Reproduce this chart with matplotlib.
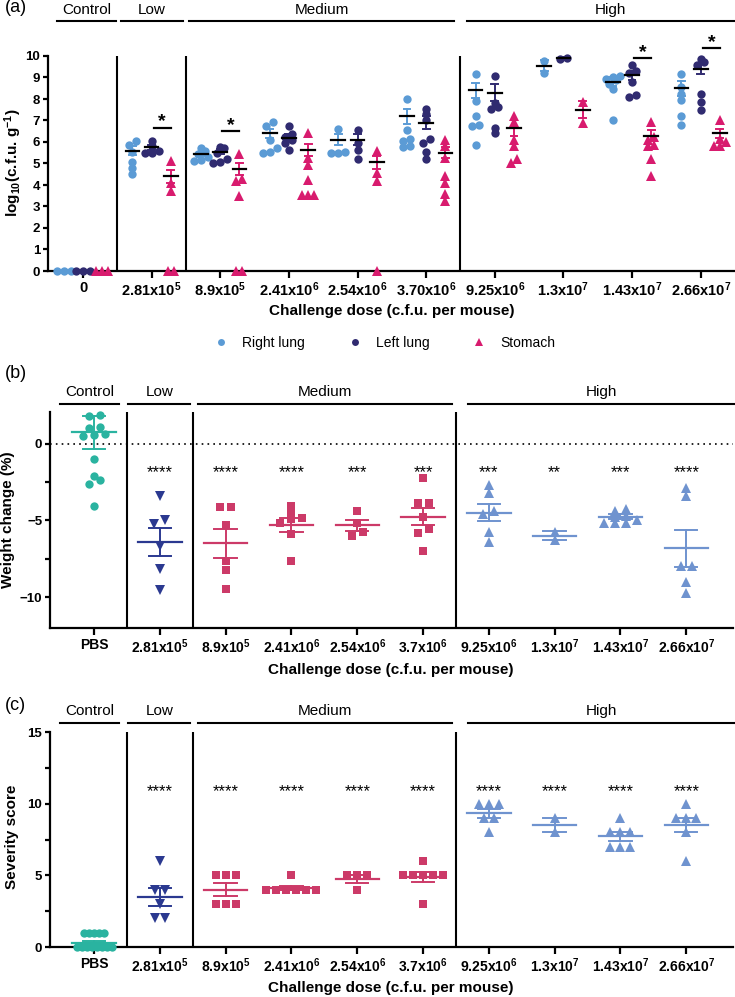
import matplotlib
matplotlib.use('Agg')
import matplotlib.pyplot as plt
from matplotlib.lines import Line2D
import numpy as np

plt.rcParams['font.family'] = ['Liberation Sans', 'DejaVu Sans']
plt.rcParams['mathtext.fontset'] = 'custom'
plt.rcParams['mathtext.rm'] = 'Liberation Sans'
plt.rcParams['mathtext.bf'] = 'Liberation Sans:bold'
plt.rcParams['mathtext.it'] = 'Liberation Sans:italic'
plt.rcParams['mathtext.default'] = 'bf'

# ---------------- data ----------------
doses_a = ['0', '2.81x10$^5$', '8.9x10$^5$', '2.41x10$^6$', '2.54x10$^6$', '3.70x10$^6$',
           '9.25x10$^6$', '1.3x10$^7$', '1.43x10$^7$', '2.66x10$^7$']
doses_bc = ['PBS', '2.81x10$^5$', '8.9x10$^5$', '2.41x10$^6$', '2.54x10$^6$', '3.7x10$^6$',
            '9.25x10$^6$', '1.3x10$^7$', '1.43x10$^7$', '2.66x10$^7$']
groups = ['Control', 'Low', 'Medium', 'High']

# (a) log10 cfu per gram
right_lung = [[0, 0, 0],
              [6.05, 5.85, 5.55, 5.05, 4.8, 4.5],
              [5.7, 5.6, 5.45, 5.3, 5.15, 5.1],
              [6.95, 6.75, 6.1, 5.7, 5.55, 5.5],
              [6.6, 5.55, 5.5, 5.5],
              [8.0, 6.55, 6.15, 6.05, 5.8, 5.75],
              [9.15, 7.9, 7.2, 6.8, 6.75, 5.85],
              [9.75, 9.2],
              [9.05, 9.0, 8.95, 8.9, 8.7, 8.45, 7.0],
              [9.15, 8.55, 8.25, 7.95, 7.2, 6.8]]
right_mean = [0, 5.6, 5.45, 6.4, 6.1, 7.2, 8.4, 9.55, 8.8, 8.5]
right_sem = [0, 0.2, 0.1, 0.2, 0.25, 0.35, 0.35, 0.25, 0.2, 0.35]

left_lung = [[0, 0, 0],
             [6.05, 5.8, 5.6, 5.5, 5.5],
             [5.75, 5.7, 5.5, 5.2, 5.0, 5.05],
             [6.75, 6.35, 6.25, 6.1, 5.95, 5.65],
             [6.55, 5.95, 5.65, 5.2],
             [7.55, 7.3, 7.0, 6.15, 5.95, 5.55, 5.2],
             [9.05, 7.8, 7.65, 7.55, 6.65, 6.4],
             [9.85, 9.9],
             [9.6, 9.3, 9.2, 8.8, 8.2, 8.1],
             [9.85, 9.7, 9.6, 8.25, 7.85, 7.5]]
left_mean = [0, 5.75, 5.55, 6.2, 6.1, 6.9, 8.3, 9.9, 9.1, 9.4]
left_sem = [0, 0.1, 0.12, 0.15, 0.25, 0.3, 0.4, 0.05, 0.2, 0.25]

stomach = [[0, 0, 0],
           [5.1, 4.1, 3.7, 0, 0],
           [5.45, 4.3, 4.2, 3.5, 0, 0],
           [6.4, 5.25, 4.95, 4.25, 3.55, 3.55, 3.55],
           [5.6, 4.55, 4.2, 0],
           [6.1, 5.8, 5.25, 4.4, 4.1, 3.6, 3.25],
           [7.2, 6.95, 6.1, 5.8, 5.2, 5.0],
           [7.85, 6.9],
           [6.95, 6.25, 6.1, 5.85, 5.8, 5.2, 4.4],
           [7.0, 6.15, 6.0, 5.8, 5.8]]
stomach_mean = [0, 4.4, 4.75, 5.63, 5.05, 5.5, 6.65, 7.5, 6.3, 6.4]
stomach_sem = [0, 0.3, 0.27, 0.3, 0.3, 0.25, 0.35, 0.4, 0.25, 0.2]

sig_cats = [1, 2, 8, 9]
sig_y = [6.67, 6.5, 9.9, 10.36]

# (b) weight change (%)
weight = [[1.88, 1.77, 1.1, 1.02, 0.6, 0.54, 0.5, -1.0, -2.13, -2.4, -2.64, -4.05],
          [-3.42, -4.98, -5.22, -6.67, -8.13, -9.53],
          [-4.1, -4.1, -5.33, -7.64, -8.25, -9.48],
          [-4.05, -4.4, -4.85, -4.9, -5.15, -5.9, -7.65],
          [-4.4, -5.15, -5.75, -6.0],
          [-2.27, -3.85, -3.85, -4.76, -5.55, -5.85, -7.0],
          [-2.73, -3.2, -4.4, -4.6, -5.75, -6.4],
          [-5.75, -6.3],
          [-4.25, -4.4, -4.7, -4.75, -5.0, -5.15, -5.15, -5.15],
          [-2.9, -3.4, -7.95, -7.95, -9.0, -9.7]]
weight_mean = [0.73, -6.4, -6.5, -5.3, -5.33, -4.76, -4.5, -6.0, -4.76, -6.82]
weight_err = [1.08, 0.9, 0.95, 0.46, 0.35, 0.57, 0.56, 0.28, 0.15, 1.2]
weight_stars = ['', '****', '****', '****', '***', '***', '***', '**', '***', '****']

# (c) severity score
severity = [[1, 1, 1, 1, 1, 0, 0, 0, 0, 0, 0, 0, 0],
            [6, 4, 4, 3, 2, 2],
            [5, 5, 5, 3, 3, 3],
            [5, 4, 4, 4, 4, 4, 4],
            [5, 5, 5, 4],
            [6, 5, 5, 5, 5, 5, 3],
            [10, 10, 10, 9, 9, 8],
            [9, 8],
            [9, 8, 8, 8, 7, 7, 7],
            [10, 9, 9, 9, 8, 6]]
sev_mean = [0.3, 3.5, 4.0, 4.14, 4.75, 4.86, 9.33, 8.5, 7.71, 8.5]
sev_err = [0.15, 0.62, 0.45, 0.14, 0.25, 0.34, 0.33, 0.5, 0.29, 0.5]
sev_stars = ['', '****', '****', '****', '****', '****', '****', '****', '****', '****']

# ---------------- style ----------------
c_right = '#5b9bd5'
c_left = '#302b70'
c_stom = '#d81b6e'
c_ctrl = '#2ab3a0'
c_low = '#2b3990'
c_med = '#cc3a68'
c_high = '#6f93cf'
group_col = [c_ctrl, c_low, c_med, c_med, c_med, c_med, c_high, c_high, c_high, c_high]
group_mk = ['o', 'v', 's', 's', 's', 's', '^', '^', '^', '^']
mk_size = {'o': 6, 'v': 6.5, 's': 5.7, '^': 6.5}

W, H = 735, 997
fig = plt.figure(figsize=(W / 100, H / 100), dpi=100)


def px_axes(l, t, r, b):
    return fig.add_axes([l / W, 1 - b / H, (r - l) / W, (b - t) / H])


def spread(ax, x0, vals, step_px, tol_px):
    vals = np.asarray(vals, float)
    p0 = ax.transData.transform((0, 0))
    p1 = ax.transData.transform((1, 1))
    sx, sy = p1[0] - p0[0], p1[1] - p0[1]
    rows = []
    for idx in np.argsort(vals, kind='stable'):
        if rows and (vals[idx] - vals[rows[-1][0]]) * sy < tol_px:
            rows[-1].append(idx)
        else:
            rows.append([idx])
    xs = np.zeros(len(vals))
    for r in rows:
        n = len(r)
        for k, idx in enumerate(r):
            xs[idx] = x0 + (k - (n - 1) / 2) * step_px / sx
    return xs


def draw_group(ax, x0, vals, mean, err, color, marker, ms, step, tol,
               mean_half, cap_half, mean_color, lw=1.4):
    xs = spread(ax, x0, vals, step, tol)
    ax.plot(xs, vals, ls='none', marker=marker, ms=ms, color=color, mec=color,
            mew=0, clip_on=False, zorder=3)
    if err > 0:
        ax.plot([x0, x0], [mean - err, mean + err], color=color, lw=lw, zorder=4)
        for y in (mean - err, mean + err):
            ax.plot([x0 - cap_half, x0 + cap_half], [y, y], color=color, lw=lw, zorder=4)
        ax.plot([x0 - mean_half, x0 + mean_half], [mean, mean], color=mean_color,
                lw=1.6, zorder=5)


def style_axes(ax, xlim, ylim, labels, xfs):
    ax.set_xlim(*xlim)
    ax.set_ylim(*ylim)
    for s in ['top', 'right']:
        ax.spines[s].set_visible(False)
    for s in ['left', 'bottom']:
        ax.spines[s].set_linewidth(1.6)
    ax.set_xticks(range(len(labels)))
    ax.set_xticklabels(labels, fontsize=xfs, fontweight='bold')
    ax.tick_params(axis='x', length=5, width=1.6, pad=2)
    ax.tick_params(axis='y', which='both', length=3.5, width=1.6, pad=2)
    for x in (0.5, 1.5, 5.5):
        ax.axvline(x, color='black', lw=1.5, zorder=1)


def bold_yticks(ax):
    for lab in ax.get_yticklabels():
        lab.set_fontweight('bold')
        lab.set_fontsize(9.5)


def headers(ax, spans, yline, ytext):
    tr = ax.get_xaxis_transform()
    for name, (a, b) in zip(groups, spans):
        ax.plot([a, b], [yline, yline], color='black', lw=1.5, transform=tr, clip_on=False)
        ax.text((a + b) / 2, ytext, name, transform=tr, ha='center', va='center', fontsize=11)


# ---------------- panel (a) ----------------
ax = px_axes(48, 56, 735, 271)
style_axes(ax, (-0.51, 9.5), (0, 10), doses_a, 10.5)
ax.set_yticks(range(0, 11))
bold_yticks(ax)
off = 0.28
for i in range(10):
    draw_group(ax, i - off, right_lung[i], right_mean[i], right_sem[i], c_right, 'o', 6,
               7, 5, 0.1, 0.05, 'black')
    draw_group(ax, i, left_lung[i], left_mean[i], left_sem[i], c_left, 'o', 6,
               7, 5, 0.1, 0.05, 'black')
    draw_group(ax, i + off, stomach[i], stomach_mean[i], stomach_sem[i], c_stom, '^', 7,
               6, 5, 0.1, 0.05, 'black')
for c, y in zip(sig_cats, sig_y):
    ax.plot([c + 0.03, c + 0.28], [y, y], color='black', lw=1.6, clip_on=False)
    ax.text(c + 0.155, y + 0.05, '*', ha='center', va='baseline', fontsize=14,
            fontweight='bold', clip_on=False)
headers(ax, [(-0.38, 0.48), (0.55, 1.46), (1.55, 5.41), (5.6, 9.76)], 1.164, 1.214)

fig.text(5 / W, 1 - 8 / H, '(a)', fontsize=13, va='center', ha='left')
fig.text(13 / W, 1 - 163 / H, r'log$_{10}$(c.f.u. g$^{-1}$)', rotation=90, fontsize=11,
         fontweight='bold', ha='center', va='center')
fig.text(392 / W, 1 - 311 / H, 'Challenge dose (c.f.u. per mouse)', fontsize=11,
         fontweight='bold', ha='center', va='center')

handles = [Line2D([], [], ls='none', marker='o', ms=5, color=c_right, mew=0),
           Line2D([], [], ls='none', marker='o', ms=5, color=c_left, mew=0),
           Line2D([], [], ls='none', marker='^', ms=5.5, color=c_stom, mew=0)]
fig.legend(handles, ['Right lung', 'Left lung', 'Stomach'], loc='center',
           bbox_to_anchor=(384 / W, 1 - 343 / H), ncol=3, frameon=False, fontsize=10,
           handlelength=1.2, handletextpad=0.9, columnspacing=3.0)

# ---------------- panel (b) ----------------
ax = px_axes(50, 412, 733, 628)
style_axes(ax, (-0.67, 9.71), (-12, 2.05), doses_bc, 10)
ax.set_yticks([-10, -5, 0])
ax.set_yticks([-7.5, -2.5], minor=True)
bold_yticks(ax)
ax.axhline(0, color='black', lw=1.2, ls=(0, (1, 2.5)), zorder=1)
for i in range(10):
    draw_group(ax, i, weight[i], weight_mean[i], weight_err[i], group_col[i], group_mk[i],
               mk_size[group_mk[i]], 11, 5, 0.33, 0.17, group_col[i])
    if weight_stars[i]:
        ax.text(i, -2.2, weight_stars[i], ha='center', va='baseline', fontsize=12)
headers(ax, [(-0.52, 0.38), (0.52, 1.46), (1.58, 5.44), (5.68, 9.74)], 1.037, 1.094)
fig.text(5 / W, 1 - 373 / H, '(b)', fontsize=13, va='center', ha='left')
fig.text(8 / W, 1 - 520 / H, 'Weight change (%)', rotation=90, fontsize=11,
         fontweight='bold', ha='center', va='center')
fig.text(391 / W, 1 - 670 / H, 'Challenge dose (c.f.u. per mouse)', fontsize=11,
         fontweight='bold', ha='center', va='center')

# ---------------- panel (c) ----------------
ax = px_axes(50, 732, 733, 947)
style_axes(ax, (-0.67, 9.71), (0, 15), doses_bc, 10)
ax.set_yticks([0, 5, 10, 15])
ax.set_yticks([2.5, 7.5, 12.5], minor=True)
bold_yticks(ax)
for i in range(10):
    step = 5 if i == 0 else 10
    draw_group(ax, i, severity[i], sev_mean[i], sev_err[i], group_col[i], group_mk[i],
               mk_size[group_mk[i]], step, 5, 0.33, 0.17, group_col[i])
    if sev_stars[i]:
        ax.text(i, 10.5, sev_stars[i], ha='center', va='baseline', fontsize=12)
headers(ax, [(-0.52, 0.38), (0.52, 1.46), (1.58, 5.44), (5.68, 9.74)], 1.043, 1.099)
fig.text(5 / W, 1 - 706 / H, '(c)', fontsize=13, va='center', ha='left')
fig.text(12 / W, 1 - 837 / H, 'Severity score', rotation=90, fontsize=11,
         fontweight='bold', ha='center', va='center')
fig.text(391 / W, 1 - 988 / H, 'Challenge dose (c.f.u. per mouse)', fontsize=11,
         fontweight='bold', ha='center', va='center')

fig.savefig('out.png', dpi=100)
plt.close()
